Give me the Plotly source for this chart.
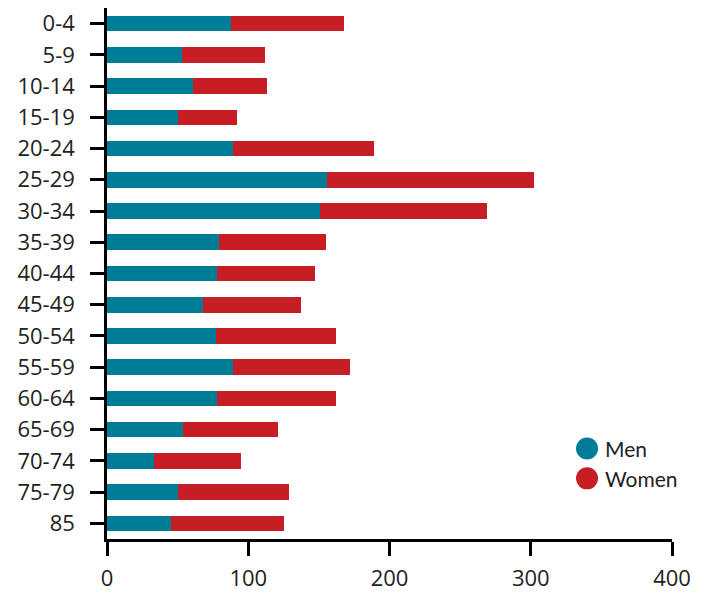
import plotly.graph_objects as go

age_groups = ["0-4", "5-9", "10-14", "15-19", "20-24", "25-29", "30-34", "35-39",
              "40-44", "45-49", "50-54", "55-59", "60-64", "65-69", "70-74", "75-79", "85"]
men = [88, 53, 61, 50, 89, 156, 151, 79, 78, 68, 77, 89, 78, 54, 33, 50, 45]
women = [80, 59, 52, 42, 100, 146, 118, 76, 69, 69, 85, 83, 84, 67, 62, 79, 80]
x_ticks = [0, 100, 200, 300, 400]
series_names = ["Men", "Women"]

MEN_COLOR = "#007D96"
WOMEN_COLOR = "#C61E24"
TICK_FONT = "Open Sans"
LEG_FONT = "Lato"

fig = go.Figure()
fig.add_trace(go.Bar(y=age_groups, x=men, orientation="h", name=series_names[0],
                     marker=dict(color=MEN_COLOR, line=dict(width=0)), width=0.5))
fig.add_trace(go.Bar(y=age_groups, x=women, orientation="h", name=series_names[1],
                     marker=dict(color=WOMEN_COLOR, line=dict(width=0)), width=0.5))

# manual legend with round swatches
leg_x = 0.8496
leg_ys = [0.1704, 0.1142]
rx, ry = 0.0195, 0.0207
for name, col, ly in zip(series_names, [MEN_COLOR, WOMEN_COLOR], leg_ys):
    fig.add_shape(type="circle", xref="paper", yref="paper",
                  x0=leg_x - rx, x1=leg_x + rx, y0=ly - ry, y1=ly + ry,
                  fillcolor=col, line=dict(width=0), layer="above")
    fig.add_annotation(xref="paper", yref="paper", x=leg_x + 0.028, y=ly,
                       xanchor="left", yanchor="middle", text=name, showarrow=False,
                       font=dict(family=LEG_FONT, size=21, color="#222222"))

fig.update_layout(
    barmode="stack",
    width=710, height=595,
    margin=dict(l=107, r=38, t=8, b=56),
    plot_bgcolor="white", paper_bgcolor="white",
    font=dict(family=TICK_FONT, size=22, color="#222222"),
    showlegend=False,
)
fig.update_xaxes(range=[0, 400], tickvals=x_ticks, ticks="outside", ticklen=14,
                 tickwidth=2.5, tickcolor="black", showline=True, linecolor="black",
                 linewidth=2.5, showgrid=False, zeroline=False, automargin=False,
                 ticklabelstandoff=4,
                 tickfont=dict(family=TICK_FONT, size=22, color="#222222"))
fig.update_yaxes(categoryorder="array", categoryarray=age_groups, autorange="reversed",
                 ticks="outside", ticklen=14, tickwidth=2.5, tickcolor="black",
                 showline=True, linecolor="black", linewidth=2.5, showgrid=False,
                 ticklabelstandoff=11, automargin=False,
                 tickfont=dict(family=TICK_FONT, size=22, color="#222222"))

fig.write_html("out.html", config={"displayModeBar": False},
               post_script="document.body.style.margin='0';document.body.style.overflow='hidden';")
